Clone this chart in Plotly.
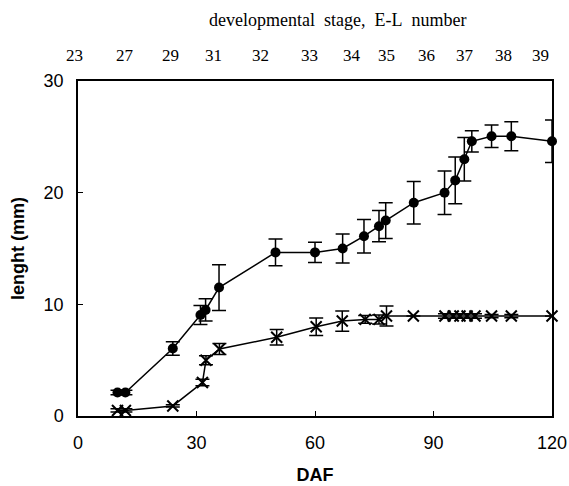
import plotly.graph_objects as go

# Circle series (filled circles)
circ_daf = [10, 12, 24, 31, 32.3, 35.7, 50, 60, 67, 72.4, 76.2, 77.9, 85, 92.8, 95.5, 97.8, 99.7, 104.7, 109.7, 120]
circ_len = [2.1, 2.1, 6.05, 9.05, 9.5, 11.5, 14.65, 14.65, 15.0, 16.1, 17.0, 17.5, 19.1, 20.0, 21.1, 23.0, 24.6, 25.05, 25.05, 24.6]
circ_err = [0.2, 0.2, 0.6, 0.85, 1.0, 2.05, 1.2, 0.9, 1.3, 1.5, 1.4, 1.6, 1.9, 1.95, 2.1, 1.95, 0.95, 1.0, 1.3, 1.9]

# Cross series (x markers)
cross_daf = [10, 12, 24, 31.5, 32.4, 35.8, 50.3, 60.3, 66.9, 72.7, 76.2, 78.1, 84.9, 92.9, 95, 96.7, 98.5, 100.5, 104.7, 109.7, 120]
cross_len = [0.5, 0.5, 0.9, 3.0, 5.0, 6.0, 7.05, 8.0, 8.5, 8.65, 8.65, 8.95, 8.95, 8.95, 8.95, 8.95, 8.95, 8.95, 8.95, 8.95, 8.95]
cross_err = [0.15, 0.15, 0.1, 0.3, 0.4, 0.5, 0.7, 0.78, 0.9, 0.35, 0.4, 0.9, 0.0, 0.2, 0.2, 0.2, 0.2, 0.2, 0.15, 0.15, 0.0]

# Top axis: E-L developmental stage numbers and their DAF positions
el_labels = ["23", "27", "29", "31", "32", "33", "34", "35", "36", "37", "38", "39"]
el_daf = [-0.9, 11.9, 23.3, 34.3, 46.1, 58.7, 69.3, 78.2, 88.3, 98.0, 107.7, 117.0]

x_ticks = [0, 30, 60, 90, 120]
y_ticks = [0, 10, 20, 30]

fig = go.Figure()

fig.add_trace(go.Scatter(
    x=cross_daf, y=cross_len, mode="lines+markers",
    line=dict(color="black", width=1.5),
    marker=dict(symbol="x-thin-open", size=11, color="black", line=dict(color="black", width=2)),
    error_y=dict(type="data", array=cross_err, visible=True, color="black", thickness=1.5, width=7),
    showlegend=False, cliponaxis=False,
))

fig.add_trace(go.Scatter(
    x=circ_daf, y=circ_len, mode="lines+markers",
    line=dict(color="black", width=1.5),
    marker=dict(symbol="circle", size=10, color="black"),
    error_y=dict(type="data", array=circ_err, visible=True, color="black", thickness=1.5, width=7),
    showlegend=False, cliponaxis=False,
))

plot_left, plot_right = 78, 552
plot_top, plot_bottom = 81, 416
ph = plot_bottom - plot_top
pw = plot_right - plot_left

annotations = []
for lab, d in zip(el_labels, el_daf):
    annotations.append(dict(
        x=d / 120.0, y=(plot_bottom - 55) / ph, xref="paper", yref="paper",
        yanchor="middle", xanchor="center",
        text=lab, showarrow=False,
        font=dict(family="Liberation Serif", size=17, color="black"),
    ))
annotations.append(dict(
    x=(337.5 - plot_left) / pw, y=(plot_bottom - 20) / ph, xref="paper", yref="paper",
    xanchor="center", yanchor="middle", showarrow=False,
    text="developmental&nbsp; stage,&nbsp; E-L&nbsp; number",
    font=dict(family="Liberation Serif", size=18, color="black"),
))

fig.update_layout(
    width=569, height=486,
    margin=dict(l=plot_left, r=569 - plot_right, t=plot_top, b=486 - plot_bottom),
    paper_bgcolor="white", plot_bgcolor="white",
    font=dict(family="Liberation Sans, Arial", size=18, color="black"),
    annotations=annotations,
    xaxis=dict(
        range=[0, 120], tickvals=x_ticks, ticks="inside", ticklen=5, tickwidth=1,
        tickcolor="black", showline=True, linecolor="black", linewidth=1.5, mirror=True,
        showgrid=False, zeroline=False, automargin=False, ticklabelstandoff=10,
        title=dict(text="<b>DAF</b>", font=dict(size=18), standoff=16),
    ),
    yaxis=dict(
        range=[0, 30], tickvals=y_ticks, ticks="inside", ticklen=5, tickwidth=1,
        tickcolor="black", showline=True, linecolor="black", linewidth=1.5, mirror=True,
        showgrid=False, zeroline=False, automargin=False, ticklabelstandoff=9,
        title=dict(text="<b>lenght (mm)</b>", font=dict(size=18), standoff=14),
    ),
)

fig.write_html("out.html", config={"displayModeBar": False},
               post_script="document.body.style.margin='0';")
